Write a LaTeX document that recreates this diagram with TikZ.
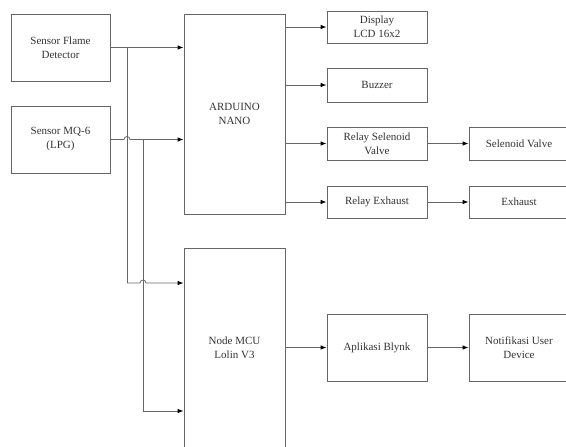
\documentclass[tikz,border=0pt]{standalone}
\usepackage{fontspec}
\setmainfont{Liberation Serif}
\usetikzlibrary{arrows.meta}
\begin{document}
\begin{tikzpicture}[x=1pt,y=-1pt,
  box/.style={draw=black!60, line width=0.8pt, fill=white, align=center,
    text=black!80, font=\fontsize{11}{14}\selectfont, inner sep=0pt},
  wire/.style={draw=black!60, line width=0.8pt},
  arr/.style={wire, -{Latex[length=6pt,width=4.5pt,black]}}]
\useasboundingbox (0,0) rectangle (566,447);
\clip (0,0) rectangle (566,447);
\fill[white] (0,0) rectangle (566,447);
% left sensors
\node[box, minimum width=99pt, minimum height=67pt] (flame) at (60.5,47.5) {Sensor Flame\\Detector};
\node[box, minimum width=99pt, minimum height=67pt] (mq) at (60.5,139.5) {Sensor MQ-6\\(LPG)};
% controllers
\node[box, minimum width=101pt, minimum height=200pt] (ard) at (234.5,114) {ARDUINO\\NANO};
\node[box, minimum width=101pt, minimum height=200pt] (mcu) at (234.5,348) {Node MCU\\Lolin V3};
% outputs
\node[box, minimum width=100pt, minimum height=32pt] (disp) at (377,27) {Display\\LCD 16x2};
\node[box, minimum width=100pt, minimum height=34pt] (buz) at (377,85) {Buzzer};
\node[box, minimum width=100pt, minimum height=33pt] (rsel) at (377,143.5) {Relay Selenoid\\Valve};
\node[box, minimum width=100pt, minimum height=32pt] (rexh) at (377,202) {Relay Exhaust};
\node[box, minimum width=100pt, minimum height=33pt] (sel) at (519,143.5) {Selenoid Valve};
\node[box, minimum width=100pt, minimum height=32pt] (exh) at (519,202) {Exhaust};
\node[box, minimum width=100pt, minimum height=67pt] (blynk) at (377,347.5) {Aplikasi Blynk};
\node[box, minimum width=100pt, minimum height=67pt] (notif) at (519,347.5) {Notifikasi User\\Device};
% junction coordinates
\coordinate (j1) at (127,47.5);
\coordinate (b1) at (127,283);
\coordinate (j2) at (143,139.5);
\coordinate (b2) at (143,411);
% sensor wiring
\draw[arr] (flame.east) -- (ard.west |- flame.east);
\draw[arr] (mq.east) -- ([xshift=-3pt]j1 |- mq.east) arc[start angle=180,end angle=0,radius=3pt] -- (ard.west |- mq.east);
\draw[wire] (j1) -- (b1);
\draw[wire] (j2) -- (b2);
\draw[arr] (b1) -- ([xshift=-3pt]j2 |- b1) arc[start angle=180,end angle=0,radius=3pt] -- (mcu.west |- b1);
\draw[arr] (b2) -- (mcu.west |- b2);
% outputs wiring
\draw[arr] (ard.east |- disp.west) -- (disp.west);
\draw[arr] (ard.east |- buz.west) -- (buz.west);
\draw[arr] (ard.east |- rsel.west) -- (rsel.west);
\draw[arr] (ard.east |- rexh.west) -- (rexh.west);
\draw[arr] (rsel.east) -- (sel.west);
\draw[arr] (rexh.east) -- (exh.west);
\draw[arr] (mcu.east |- blynk.west) -- (blynk.west);
\draw[arr] (blynk.east) -- (notif.west);
\end{tikzpicture}
\end{document}
